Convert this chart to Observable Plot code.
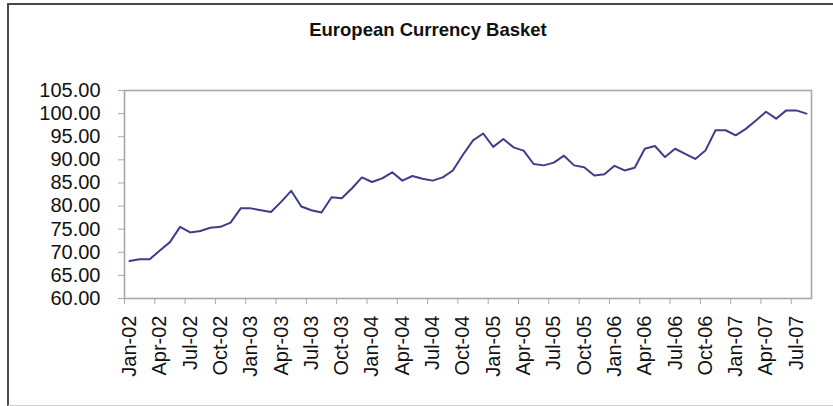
<!DOCTYPE html>
<html>
<head>
<meta charset="utf-8">
<script src="https://cdn.jsdelivr.net/npm/d3@7"></script>
<script src="https://cdn.jsdelivr.net/npm/@observablehq/plot@0.6"></script>
<style>
  html, body { margin: 0; padding: 0; background: #fff; }
  #wrap { position: relative; width: 833px; height: 406px; overflow: hidden; }
  #border { position: absolute; left: 7px; top: 3px; width: 840px; height: 400px;
            border-left: 2px solid #4a4a4a; border-top: 2px solid #4a4a4a; border-bottom: 1px solid #d0d0d0; }
  #title { position: absolute; left: 0; width: 856px; top: 19px; text-align: center;
           font-family: "Liberation Sans", Arial, sans-serif; font-weight: bold; font-size: 18.5px; color: #111; }
  #chart { position: absolute; left: 0; top: 0; }
</style>
</head>
<body>
<div id="wrap">
  <div id="border"></div>
  <div id="title">European Currency Basket</div>
  <div id="chart"></div>
</div>
<script>
// Monthly index, Jan-02 .. Aug-07
const values = [
  68.1, 68.5, 68.5, 70.4, 72.2, 75.5, 74.3, 74.6, 75.3, 75.5,
  76.4, 79.5, 79.5, 79.1, 78.7, 80.9, 83.3, 79.9, 79.1, 78.6,
  81.9, 81.7, 83.8, 86.2, 85.2, 86.0, 87.3, 85.5, 86.5, 85.9,
  85.5, 86.2, 87.7, 91.1, 94.2, 95.7, 92.8, 94.5, 92.7, 92.0,
  89.1, 88.8, 89.4, 90.9, 88.8, 88.4, 86.6, 86.9, 88.7, 87.7,
  88.3, 92.4, 93.0, 90.6, 92.4, 91.3, 90.2, 92.0, 96.4, 96.4,
  95.3, 96.7, 98.5, 100.4, 98.9, 100.7, 100.7, 100.0
];
const tickLabels = [
  "Jan-02","Apr-02","Jul-02","Oct-02","Jan-03","Apr-03","Jul-03","Oct-03",
  "Jan-04","Apr-04","Jul-04","Oct-04","Jan-05","Apr-05","Jul-05","Oct-05",
  "Jan-06","Apr-06","Jul-06","Oct-06","Jan-07","Apr-07","Jul-07"
];
const yTicks = [60, 65, 70, 75, 80, 85, 90, 95, 100, 105];

const data = values.map((v, i) => ({i: i + 0.5, v}));
const labelPos = tickLabels.map((_, k) => k * 3 + 0.5);
const tickPos = tickLabels.map((_, k) => k * 3);

const font = '"Liberation Sans", Arial, sans-serif';

const chart = Plot.plot({
  width: 833,
  height: 406,
  marginLeft: 124,
  marginRight: 22,
  marginTop: 90,
  marginBottom: 108,
  style: {fontFamily: font, fontSize: "20px", color: "#111", background: "transparent", overflow: "visible"},
  x: {type: "linear", domain: [0, values.length]},
  y: {domain: [60, 105]},
  marks: [
    Plot.frame({stroke: "#a8a8a8", strokeWidth: 1.6}),
    Plot.axisY({ticks: yTicks, tickFormat: d3.format(".2f"), tickSize: 6, tickPadding: 18,
                stroke: "#a8a8a8", fill: "#111", label: null, fontSize: 20}),
    Plot.axisX({ticks: tickPos, tickFormat: () => "", tickSize: 6, stroke: "#a8a8a8", label: null}),
    Plot.axisX({ticks: labelPos, tickFormat: (d) => tickLabels[Math.round((d - 0.5) / 3)],
                tickSize: 0, tickPadding: 17, tickRotate: -90, fill: "#111", label: null, fontSize: 20}),
    Plot.line(data, {x: "i", y: "v", stroke: "#3d3d8a", strokeWidth: 2})
  ]
});
document.getElementById("chart").appendChild(chart);
</script>
</body>
</html>
